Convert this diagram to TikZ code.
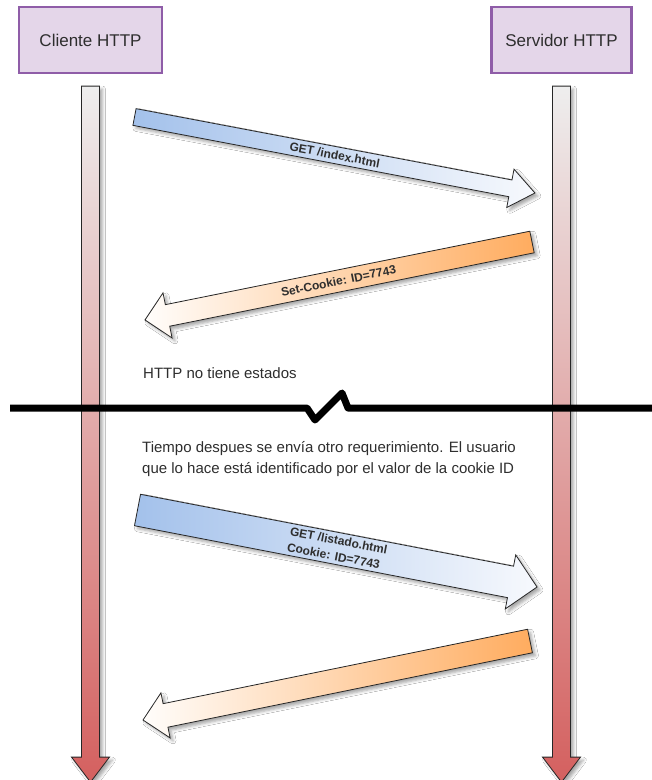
\documentclass[tikz,border=0pt]{standalone}
\usepackage{fontspec}
\setmainfont{Liberation Sans}
\usetikzlibrary{shadows.blur}

\definecolor{boxfill}{HTML}{E4D6E9}
\definecolor{boxline}{HTML}{8F5DA8}
\definecolor{lifetop}{HTML}{EEEEEE}
\definecolor{lifebot}{HTML}{D4605F}
\definecolor{reqblue}{HTML}{A3C1EB}
\definecolor{reqwhite}{HTML}{F7F9FD}
\definecolor{resorange}{HTML}{FFAC5F}
\definecolor{reswhite}{HTML}{FFFDFB}
\definecolor{ink}{HTML}{2E2E2E}

\tikzset{
  softshadow/.style={blur shadow={shadow xshift=3pt, shadow yshift=-3pt,
      shadow blur radius=3pt, shadow opacity=35}},
  actor/.style={draw=boxline, line width=2.2pt, fill=boxfill,
      minimum width=143pt, minimum height=66pt, inner sep=0pt,
      font=\fontsize{17}{20}\selectfont, text=ink},
  lifebar/.style={draw=black!85, line width=0.8pt, top color=lifetop,
      bottom color=lifebot, softshadow},
  request/.style={draw=black!85, line width=0.8pt, left color=reqblue,
      right color=reqwhite, softshadow},
  response/.style={draw=black!85, line width=0.8pt, left color=reswhite,
      right color=resorange, softshadow},
  msg/.style={font=\bfseries\fontsize{12}{16}\selectfont, inner sep=0pt,
      align=left, text=ink},
  note/.style={font=\fontsize{15}{21}\selectfont, inner sep=0pt,
      align=left, text=ink},
  cutline/.style={line width=7pt, line join=round, black},
}

% Block arrow pointing along +x of a frame rotated by #3 around tail #2.
% #1 label name, #4 length, #5 shaft width, #6 head width, #7 head length, #8 label
\newcommand\sendarrow[8]{%
  \begin{scope}[shift={(#2)}, rotate=#3]
    \path[request] (0,-#5/2) -- (#4-#7,-#5/2) -- (#4-#7,-#6/2) -- (#4,0)
      -- (#4-#7,#6/2) -- (#4-#7,#5/2) -- (0,#5/2) -- cycle;
    \node[msg, rotate=#3] (#1) at (#4/2,0) {#8};
  \end{scope}}
% Same, pointing along -x of the rotated frame (reply travelling leftwards).
\newcommand\replyarrow[8]{%
  \begin{scope}[shift={(#2)}, rotate=#3]
    \path[response] (0,-#5/2) -- (-#4+#7,-#5/2) -- (-#4+#7,-#6/2) -- (-#4,0)
      -- (-#4+#7,#6/2) -- (-#4+#7,#5/2) -- (0,#5/2) -- cycle;
    \node[msg, rotate=#3] (#1) at (-#4/2,0) {#8};
  \end{scope}}
% Vertical time line with a downward head, hanging from #1.
\newcommand\timeline[1]{%
  \path[lifebar] (#1) ++(-9,0) -- ++(18,0) -- ++(0,-671) -- ++(10,0)
    -- ++(-19,-25) -- ++(-19,25) -- ++(10,0) -- cycle;}

\begin{document}
\begin{tikzpicture}[x=1pt, y=1pt]
  \path[use as bounding box, fill=white] (0,0) rectangle (652,-780);

  % participants
  \node[actor] (cli) at (90.5,-40) {Cliente HTTP};
  \node[actor, minimum width=140pt] (srv) at (561.5,-40) {Servidor HTTP};

  % time lines
  \coordinate (cliTop) at ([yshift=-12pt]cli.south);
  \coordinate (srvTop) at ([yshift=-12pt]srv.south);
  \timeline{cliTop}
  \timeline{srvTop}

  % first exchange
  \coordinate (req1) at (134.5,-117);
  \sendarrow{get1}{req1}{-10.745}{407.6}{17}{39}{25}{GET /index.html}
  \coordinate (res1) at (532,-242);
  \replyarrow{set1}{res1}{11.39}{394.8}{22}{46}{23}{Set-Cookie: ID=7743}

  \node[note, anchor=base west] (stateless) at (143,-378) {HTTP no tiene estados};

  % time break
  \coordinate (cutL) at (10,-408);
  \coordinate (cutR) at (652,-408);
  \draw[cutline] (cutL) -- (307,-408) -- (315,-420) -- (342,-393)
    -- (348,-408) -- (cutR);

  \node[note, anchor=north west] (later) at (142,-441)
    {Tiempo despues se envía otro requerimiento. El usuario\\
     que lo hace está identificado por el valor de la cookie ID};

  % second exchange
  \coordinate (req2) at (137.5,-510);
  \sendarrow{get2}{req2}{-10.91}{406.9}{32}{55}{27}{GET /listado.html\\Cookie: ID=7743}
  \coordinate (res2) at (530,-641);
  \replyarrow{set2}{res2}{11.54}{395}{24}{46}{23}{}
\end{tikzpicture}
\end{document}
